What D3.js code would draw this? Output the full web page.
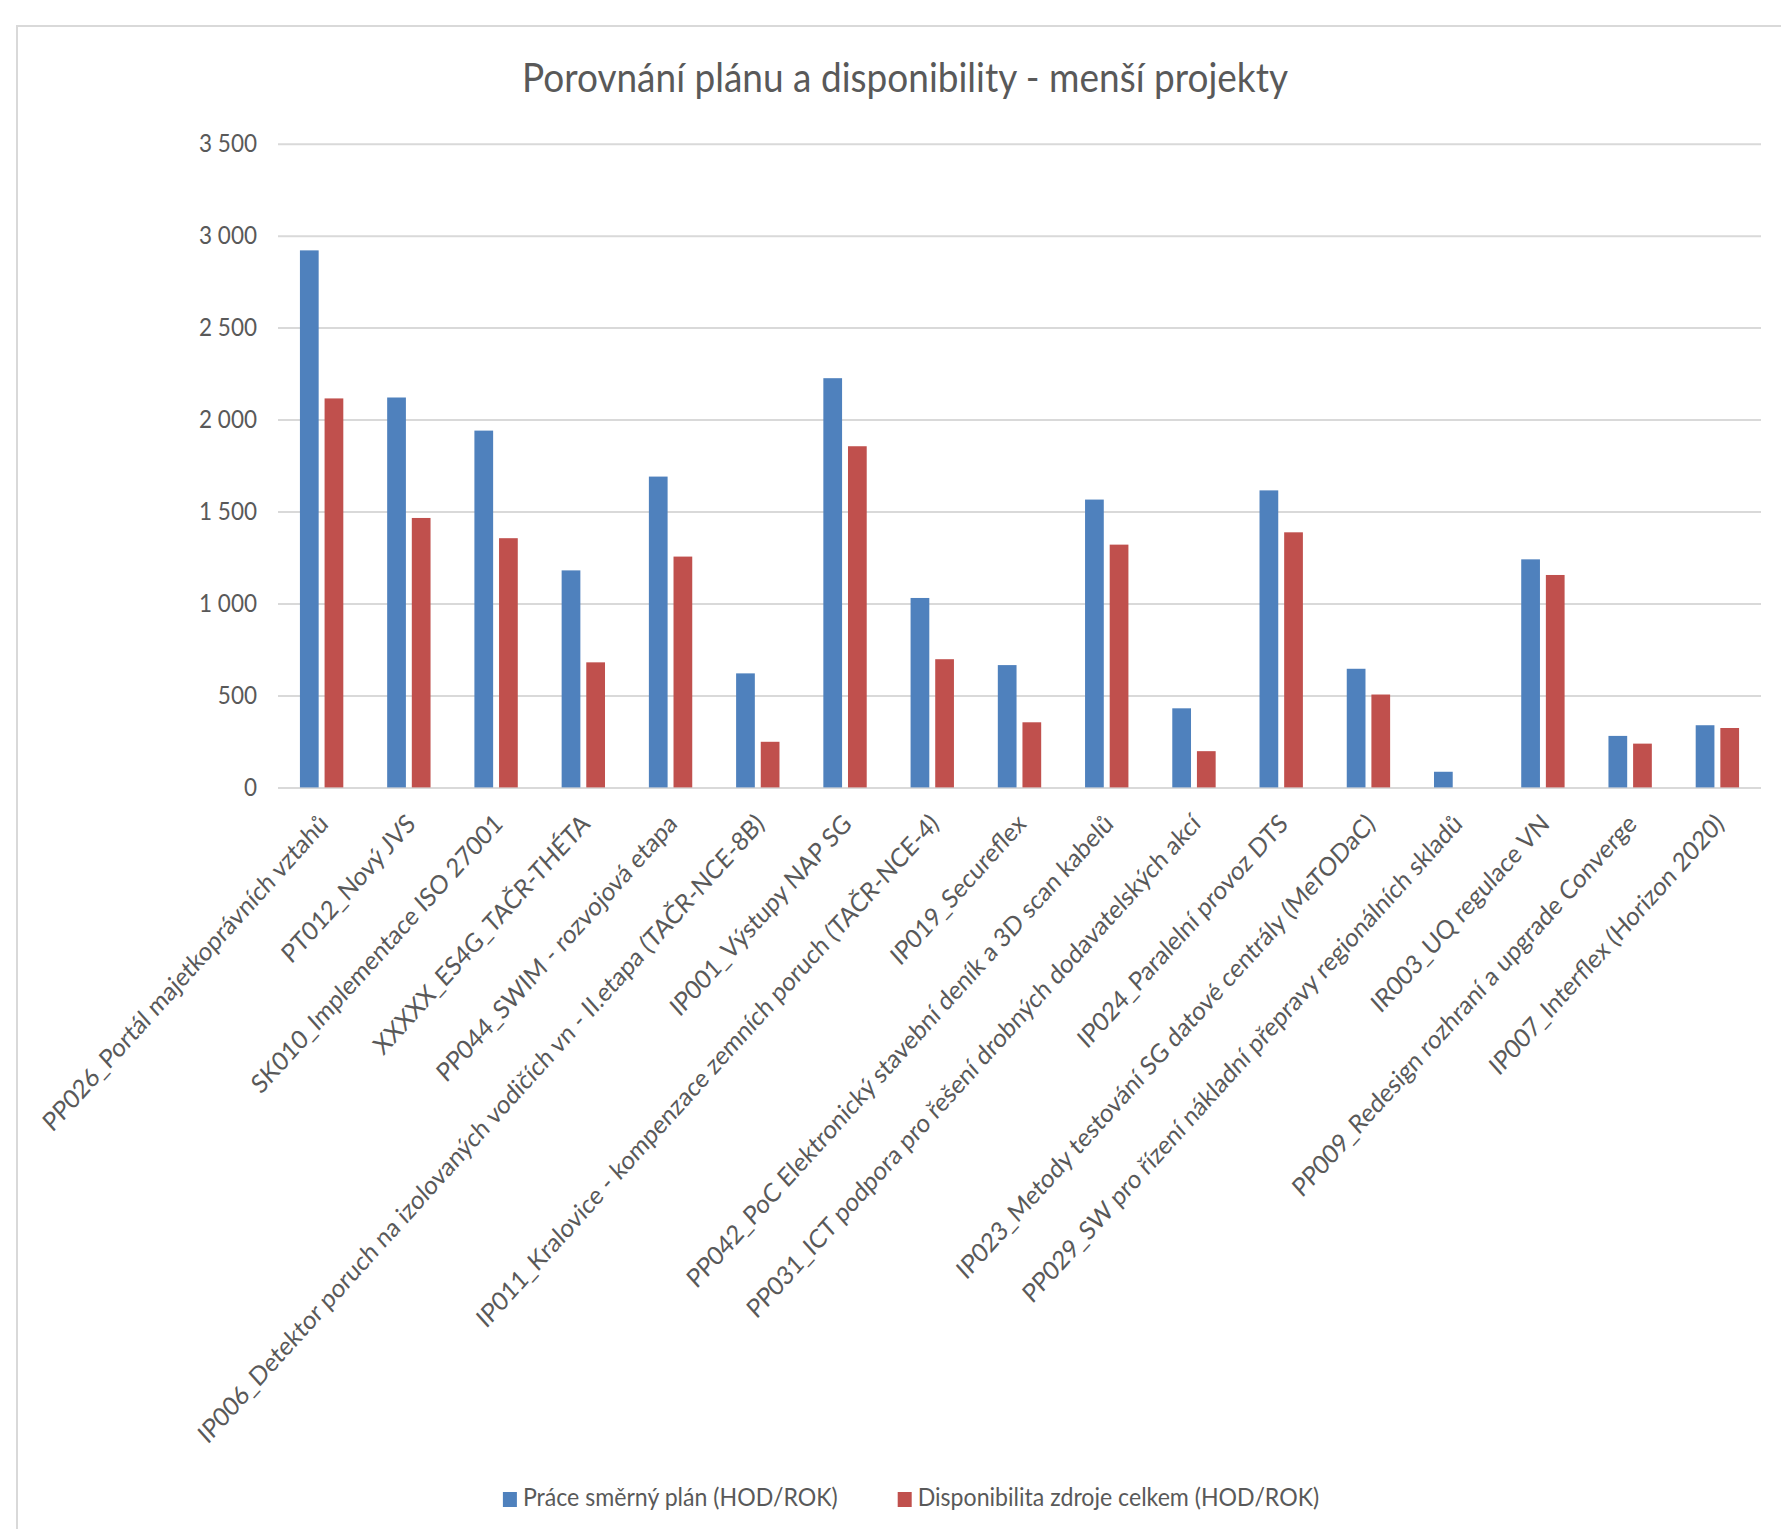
<!DOCTYPE html>
<html>
<head>
<meta charset="utf-8">
<script src="https://cdn.jsdelivr.net/npm/d3@7"></script>
<style>
  body { margin: 0; background: #fff; }
  text { font-family: Lato, "Open Sans", sans-serif; fill: #595959; }
</style>
</head>
<body>
<div id="chart"></div>
<script>
// data
const categories = [
  "PP026_Portál majetkoprávních vztahů",
  "PT012_Nový JVS",
  "SK010_Implementace ISO 27001",
  "XXXXX_ES4G_TAČR-THÉTA",
  "PP044_SWIM - rozvojová etapa",
  "IP006_Detektor poruch na izolovaných vodičích vn - II.etapa (TAČR-NCE-8B)",
  "IP001_Výstupy NAP SG",
  "IP011_Kralovice - kompenzace zemních poruch (TAČR-NCE-4)",
  "IP019_Secureflex",
  "PP042_PoC Elektronický stavební deník a 3D scan kabelů",
  "PP031_ICT podpora pro řešení drobných dodavatelských akcí",
  "IP024_Paralelní provoz DTS",
  "IP023_Metody testování SG datové centrály (MeTODaC)",
  "PP029_SW pro řízení nákladní přepravy regionálních skladů",
  "IR003_UQ regulace VN",
  "PP009_Redesign rozhraní a upgrade Converge",
  "IP007_Interflex (Horizon 2020)"
];
const planValues = [2920, 2120, 1940, 1180, 1690, 620, 2225, 1030, 665, 1565, 430, 1615, 645, 85, 1240, 280, 338];
const availValues = [2115, 1465, 1355, 680, 1255, 248, 1855, 697, 354, 1320, 197, 1387, 505, 0, 1155, 238, 323];
const seriesNames = ["Práce směrný plán (HOD/ROK)", "Disponibilita zdroje celkem (HOD/ROK)"];
const yTicks = [0, 500, 1000, 1500, 2000, 2500, 3000, 3500];
const title = "Porovnání plánu a disponibility - menší projekty";

const width = 1781, height = 1529;
const plot = { left: 278, right: 1761, top: 143.7, bottom: 787.4 };
const colors = ["#4F81BD", "#C0504D"];
const stretch = 1.11; // the source picture is stretched vertically

const svg = d3.select("#chart").append("svg")
  .attr("width", width)
  .attr("height", height);

// chart frame (right and bottom edges fall outside the picture)
svg.append("rect")
  .attr("x", 17).attr("y", 26)
  .attr("width", 1800).attr("height", 1600)
  .attr("fill", "none")
  .attr("stroke", "#d9d9d9")
  .attr("stroke-width", 2);

// scale a text's font so it spans the wanted width
function fitFont(sel, base, target) {
  sel.style("font-size", base + "px");
  const w = sel.node().getComputedTextLength();
  const size = base * target / w;
  sel.style("font-size", size + "px");
  return size;
}

svg.append("text")
  .attr("transform", `translate(905,92) scale(1,${stretch})`)
  .attr("text-anchor", "middle")
  .text(title)
  .call(s => fitFont(s, 36, 766));

const x = d3.scaleBand().domain(categories).range([plot.left, plot.right]);
const xs = d3.scaleBand().domain([0, 1]).range([0, x.bandwidth()])
  .paddingInner(0.24).paddingOuter(0.89);
const y = d3.scaleLinear().domain([0, 3500]).range([plot.bottom, plot.top]);

const locale = d3.formatLocale({ decimal: ",", thousands: " ", grouping: [3], currency: ["", ""] });
const fmt = locale.format(",d");

// gridlines
svg.append("g")
  .attr("transform", `translate(${plot.left},0)`)
  .call(d3.axisLeft(y).tickValues(yTicks).tickSize(-(plot.right - plot.left)).tickFormat(""))
  .call(g => g.select(".domain").remove())
  .call(g => g.selectAll("line").attr("stroke", "#d9d9d9").attr("stroke-width", 2));

// y tick labels
const yAxis = svg.append("g")
  .attr("transform", `translate(${plot.left},0)`)
  .call(d3.axisLeft(y).tickValues(yTicks).tickSize(0).tickPadding(21).tickFormat(fmt))
  .call(g => g.select(".domain").remove());
yAxis.selectAll("text")
  .attr("fill", null)
  .style("font-family", null)
  .attr("transform", `scale(1,${stretch})`);
const tickSize = fitFont(yAxis.selectAll("text").filter(d => d === 3500), 22, 58);
yAxis.selectAll("text").style("font-size", tickSize + "px");

// bars
const rows = categories.map((c, i) => ({ cat: c, values: [planValues[i], availValues[i]] }));
const groups = svg.append("g").selectAll("g")
  .data(rows)
  .join("g")
  .attr("transform", d => `translate(${x(d.cat)},0)`);
groups.selectAll("rect")
  .data(d => d.values.map((v, k) => ({ k, v })))
  .join("rect")
  .attr("x", d => xs(d.k))
  .attr("width", xs.bandwidth())
  .attr("y", d => y(d.v))
  .attr("height", d => y(0) - y(d.v))
  .attr("fill", d => colors[d.k]);

// category labels, rotated -45°
const labels = svg.append("g").selectAll("text")
  .data(categories)
  .join("text")
  .attr("text-anchor", "end")
  .attr("transform", d => `translate(${x(d) + x.bandwidth() / 2 + 8},${plot.bottom + 38}) scale(1,${stretch}) rotate(-45)`)
  .text(d => d);
const labelSize = fitFont(labels.filter((d, i) => i === 0), 22, 392);
labels.style("font-size", labelSize + "px");

// legend
const legend = svg.append("g");
const items = legend.selectAll("g")
  .data(seriesNames)
  .join("g");
items.append("rect")
  .attr("width", 14).attr("height", 15)
  .attr("y", 1492)
  .attr("fill", (d, i) => colors[i]);
const legendTexts = items.append("text")
  .attr("transform", `translate(20,1506) scale(1,${stretch})`)
  .text(d => d);
const legendSize = fitFont(legendTexts.filter((d, i) => i === 0), 22, 315);
legendTexts.style("font-size", legendSize + "px");
const widths = legendTexts.nodes().map(n => n.getComputedTextLength());
const gap = 60;
const total = 20 + widths[0] + gap + 20 + widths[1];
let cx = 911 - total / 2;
items.each(function (d, i) {
  d3.select(this).attr("transform", `translate(${cx},0)`);
  cx += 20 + widths[i] + gap;
});
</script>
</body>
</html>
